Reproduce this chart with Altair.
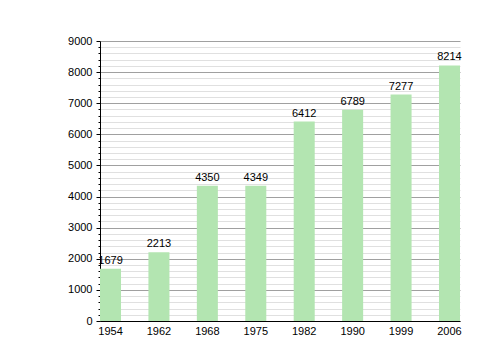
import altair as alt
import pandas as pd

years = ["1954", "1962", "1968", "1975", "1982", "1990", "1999", "2006"]
population = [1679, 2213, 4350, 4349, 6412, 6789, 7277, 8214]

df = pd.DataFrame({"year": years, "pop": population})

major = "datum.value % 1000 === 0"

x = alt.X("year:N", sort=years, title=None,
          scale=alt.Scale(paddingInner=0.566, paddingOuter=0),
          axis=alt.Axis(labelAngle=0, ticks=False, domainColor="#000", labelColor="#000",
                        labelFont="Liberation Sans", labelFontSize=11, labelPadding=4, grid=False))
y = alt.Y("pop:Q", title=None,
          scale=alt.Scale(domain=[0, 9000], nice=False),
          axis=alt.Axis(values=list(range(0, 9001, 200)),
                        labelExpr=f"{major} ? datum.label : ''",
                        labelOverlap=False,
                        format="d",
                        gridColor={"condition": {"test": major, "value": "#a0a0a0"}, "value": "#e0e0e0"},
                        tickSize={"condition": {"test": major, "value": 4}, "value": 2},
                        tickColor="#000", domainColor="#000", labelColor="#000",
                        labelFont="Liberation Sans", labelFontSize=11, labelPadding=4))

bars = alt.Chart(df).mark_bar(color="#b3e5b1").encode(x=x, y=y)
text = alt.Chart(df).mark_text(baseline="bottom", dy=-3, font="Liberation Sans", fontSize=11, color="#000").encode(
    x=x, y=y, text="pop:Q")

chart = alt.layer(bars, text).properties(
    width=360, height=280,
    autosize=alt.AutoSizeParams(type="none"),
    padding={"left": 92, "top": 33, "right": 10, "bottom": 28},
).configure_view(stroke=None).configure_axis(domainWidth=1, gridWidth=1)

chart.save("out.html", embed_options={"renderer": "svg", "actions": False})
